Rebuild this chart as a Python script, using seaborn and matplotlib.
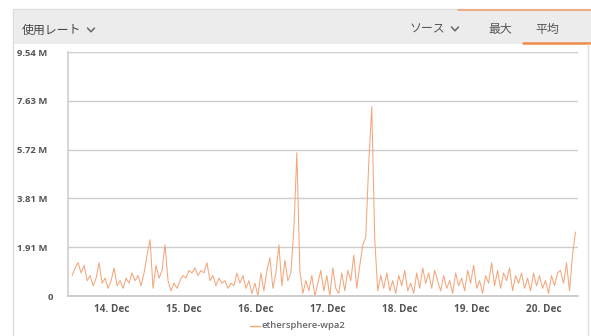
import matplotlib
matplotlib.use("Agg")
import matplotlib.pyplot as plt
import matplotlib.dates as mdates
import matplotlib.transforms as mtransforms
from matplotlib.patches import Rectangle
from matplotlib.lines import Line2D
import numpy as np
import pandas as pd
import seaborn as sns

# Hourly average usage rate (MiB/s) for the access point
start_time = "2023-12-13 10:40"
series_name = "ethersphere-wpa2"
rate_mib = [
    0.8, 1.1, 1.3, 0.9, 1.2, 0.6, 0.8, 0.4, 0.7, 1.3,
    0.5, 0.7, 0.3, 0.6, 1.1, 0.4, 0.6, 0.3, 0.7, 0.5,
    0.9, 0.6, 0.8, 0.4, 0.9, 1.6, 2.2, 0.3, 1.2, 0.7,
    1.0, 2.0, 0.6, 0.2, 0.5, 0.3, 0.6, 0.8, 0.7, 1.0,
    0.9, 1.1, 0.8, 1.0, 0.9, 1.3, 0.6, 0.8, 0.4, 0.7,
    0.5, 0.6, 0.3, 0.5, 0.4, 0.9, 0.5, 0.8, 0.3, 0.6,
    0.1, 0.5, 0.0, 0.9, 0.2, 1.0, 1.5, 0.3, 0.9, 2.0,
    0.4, 1.4, 0.6, 0.9, 2.6, 5.6, 1.0, 0.1, 0.6, 0.2,
    0.8, 0.0, 0.5, 1.0, 0.2, 0.8, 0.0, 1.1, 0.3, 0.1,
    0.9, 0.2, 1.0, 0.6, 1.6, 0.3, 1.2, 2.0, 2.3, 5.2,
    7.4, 2.2, 0.2, 0.8, 0.3, 0.9, 0.2, 0.6, 0.1, 0.8,
    0.4, 1.0, 0.2, 0.5, 0.1, 0.9, 0.3, 1.1, 0.5, 0.9,
    0.3, 1.0, 0.6, 0.2, 0.8, 0.3, 0.6, 0.1, 0.9, 0.4,
    0.7, 0.2, 1.0, 0.5, 1.2, 0.3, 0.6, 0.1, 0.8, 0.5,
    1.3, 0.4, 1.0, 0.3, 0.9, 0.6, 1.1, 0.2, 0.8, 0.5,
    0.9, 0.3, 0.7, 0.2, 0.9, 0.4, 0.8, 0.3, 0.6, 0.1,
    0.8, 0.4, 0.9, 1.0, 0.5, 1.3, 0.2, 1.6, 2.5,
]
y_ticks_bytes = [0, 2e6, 4e6, 6e6, 8e6, 1e7]
header_title = "使用レート"
header_tabs = ["ソース", "最大", "平均"]

df = pd.DataFrame({
    "time": pd.date_range(start_time, periods=len(rate_mib), freq="h"),
    "rate": np.array(rate_mib) * 1048576,
})

sns.set_theme(style="white")
plt.rcParams["font.family"] = ["Noto Sans CJK JP", "DejaVu Sans"]

W, H = 591, 336
fig = plt.figure(figsize=(W / 100, H / 100), dpi=100)

def px(x0, y0, x1, y1):
    return [x0 / W, 1 - y1 / H, (x1 - x0) / W, (y1 - y0) / H]

# Card frame and header band
bg = fig.add_axes([0, 0, 1, 1])
bg.set_xlim(0, W)
bg.set_ylim(H, 0)
bg.axis("off")
bg.add_patch(Rectangle((13, 9), W - 13 + 5, H, facecolor="white",
                       edgecolor="#dcdcdc", lw=1))
bg.add_patch(Rectangle((13.5, 9.5), W, 34.5, facecolor="#ececec",
                       edgecolor="none"))
bg.plot([458, W], [10, 10], color="#f0a070", lw=1.2)
bg.plot([523, W], [43, 43], color="#f08a4b", lw=1.8)
bg.plot([588, 588], [44, H], color="#dcdcdc", lw=1)
bg.text(22, 30, header_title, fontsize=8.6, color="#444444", va="center")
for label, xpos in zip(header_tabs, [410, 488, 535]):
    bg.text(xpos, 29, label, fontsize=8.6, color="#555555", va="center")

# dropdown chevrons next to the menu labels
for cx, cy in [(91, 30), (455, 29)]:
    bg.plot([cx - 3.5, cx, cx + 3.5], [cy - 2, cy + 1.8, cy - 2],
            color="#666666", lw=1.1, solid_capstyle="round",
            solid_joinstyle="round")

# Legend entry at the bottom
bg.add_line(Line2D([250, 260], [326, 326], color="#f5a77a", lw=1))
bg.text(262, 326, series_name, fontsize=6.8, color="#666666",
        va="center", fontweight="semibold", family=["Open Sans", "DejaVu Sans"])

ax = fig.add_axes(px(68, 52, 578, 296))
ax.patch.set_alpha(0)
sns.lineplot(data=df, x="time", y="rate", ax=ax, color="#f4a67a", lw=0.75,
             legend=False)

ax.set_ylim(0, 1e7)
ax.set_xlim(pd.Timestamp("2023-12-13 09:17"), pd.Timestamp("2023-12-20 11:30"))
ax.set_yticks(y_ticks_bytes)
ax.yaxis.set_major_formatter(
    plt.FuncFormatter(lambda v, _: "0" if v == 0 else f"{v / 1048576:.2f} M"))
ax.xaxis.set_major_locator(mdates.DayLocator())
ax.xaxis.set_major_formatter(mdates.DateFormatter("%d. %b"))
ax.grid(axis="y", color="#cccccc", lw=1)
ax.set_axisbelow(True)
ax.set_xlabel("")
ax.set_ylabel("")
for side in ["top", "right"]:
    ax.spines[side].set_visible(False)
ax.spines["left"].set_color("#d0d0d0")
ax.spines["bottom"].set_color("#c8c8c8")
ax.tick_params(axis="y", length=0, labelsize=6.8, labelcolor="#555555", pad=15)
ax.tick_params(axis="x", length=0, labelsize=7.2, labelcolor="#555555", pad=6)
for t in ax.get_xticklabels() + ax.get_yticklabels():
    t.set_fontweight("bold")
    t.set_family(["Open Sans", "DejaVu Sans"])

# the zero label sits a little closer to the axis
fig.canvas.draw()
zero_label = ax.get_yticklabels()[0]
zero_label.set_transform(zero_label.get_transform() +
                         mtransforms.ScaledTranslation(6 / 100, 0, fig.dpi_scale_trans))

fig.savefig("out.png", dpi=100)
